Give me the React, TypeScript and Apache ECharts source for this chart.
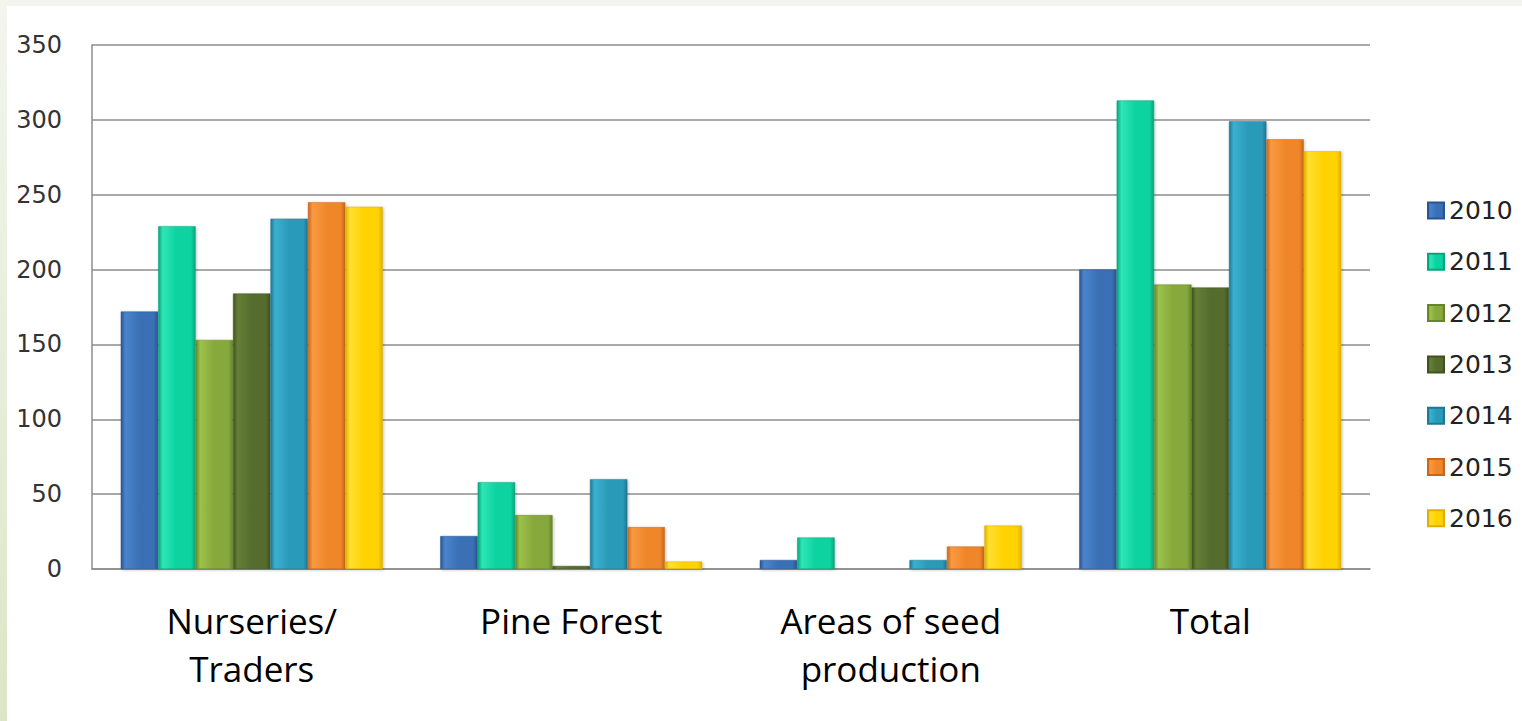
import React, { useEffect, useRef } from "react";
import * as echarts from "echarts";

const categories = ["Nurseries/\nTraders", "Pine Forest", "Areas of seed\nproduction", "Total"];
const years = ["2010", "2011", "2012", "2013", "2014", "2015", "2016"];
const v2010 = [172, 22, 6, 200];
const v2011 = [229, 58, 21, 313];
const v2012 = [153, 36, 0, 190];
const v2013 = [184, 2, 0, 188];
const v2014 = [234, 60, 6, 299];
const v2015 = [245, 28, 15, 287];
const v2016 = [242, 5, 29, 279];
const seriesValues = [v2010, v2011, v2012, v2013, v2014, v2015, v2016];
const yTicks = [0, 50, 100, 150, 200, 250, 300, 350];

const palette = [
  { base: "#3a70b6", edge: "#2a5592", light: "#4a84cc" },
  { base: "#0bd3a0", edge: "#07a57d", light: "#2fe6b6" },
  { base: "#86a83c", edge: "#66862a", light: "#9cc24a" },
  { base: "#556c2d", edge: "#3f5220", light: "#657f36" },
  { base: "#2b9ab9", edge: "#1f7894", light: "#3bb0d0" },
  { base: "#f0862a", edge: "#c9661b", light: "#f89a42" },
  { base: "#ffd200", edge: "#e0b000", light: "#ffe030" },
];

function grad(p: { base: string; edge: string; light: string }) {
  return new echarts.graphic.LinearGradient(0, 0, 1, 0, [
    { offset: 0, color: p.edge },
    { offset: 0.12, color: p.light },
    { offset: 0.5, color: p.base },
    { offset: 0.88, color: p.base },
    { offset: 1, color: p.edge },
  ]);
}

export default function App() {
  const ref = useRef<HTMLDivElement>(null);
  useEffect(() => {
    document.body.style.margin = "0";
    const chart = echarts.init(ref.current!, undefined, { renderer: "svg" });
    chart.setOption({
      animation: false,
      backgroundColor: "#ffffff",
      graphic: [
        {
          type: "rect",
          left: 0,
          top: 0,
          shape: { width: 1522, height: 6 },
          style: { fill: "#f3f5ee" },
          silent: true,
          z: -10,
        },
        {
          type: "rect",
          left: 0,
          top: 0,
          shape: { width: 7, height: 721 },
          style: {
            fill: new echarts.graphic.LinearGradient(0, 0, 0, 1, [
              { offset: 0, color: "#f3f5ee" },
              { offset: 1, color: "#dce6c6" },
            ]),
          },
          silent: true,
          z: -10,
        },
      ],
      grid: {
        left: 92,
        right: 152,
        top: 45,
        bottom: 152,
        show: false,
      },
      legend: {
        orient: "vertical",
        left: 1422,
        top: 193,
        itemWidth: 16,
        itemHeight: 16,
        itemGap: 26.3,
        icon: "rect",
        data: years,
        textStyle: { fontFamily: "DejaVu Sans", fontSize: 25, color: "#222" },
      },
      xAxis: {
        type: "category",
        data: categories,
        axisLine: { show: true, lineStyle: { color: "#8c8c8c", width: 1.5 } },
        axisTick: { show: false },
        axisLabel: {
          fontFamily: "Open Sans",
          fontSize: 35,
          color: "#000",
          lineHeight: 48,
          margin: 27,
        },
      },
      yAxis: {
        type: "value",
        min: 0,
        max: 350,
        interval: 50,
        axisLine: { show: true, lineStyle: { color: "#8c8c8c", width: 1.5 } },
        axisTick: { show: false },
        splitLine: { show: true, lineStyle: { color: "#8c8c8c", width: 1.5 } },
        axisLabel: {
          fontFamily: "DejaVu Sans",
          fontSize: 24,
          color: "#333",
          margin: 30,
          formatter: (v: number) => (yTicks.includes(v) ? String(v) : ""),
        },
      },
      series: years.map((y, i) => ({
        name: y,
        type: "bar",
        data: seriesValues[i],
        barGap: "0%",
        barCategoryGap: "18%",
        itemStyle: {
          color: grad(palette[i]),
          borderColor: palette[i].edge,
          borderWidth: 0.5,
          shadowColor: "rgba(0,0,0,0.25)",
          shadowBlur: 3,
          shadowOffsetX: 1,
          shadowOffsetY: 1,
        },
      })),
      color: palette.map((p) => p.base),
    });
    return () => chart.dispose();
  }, []);
  return <div ref={ref} style={{ width: 1522, height: 721 }} />;
}
